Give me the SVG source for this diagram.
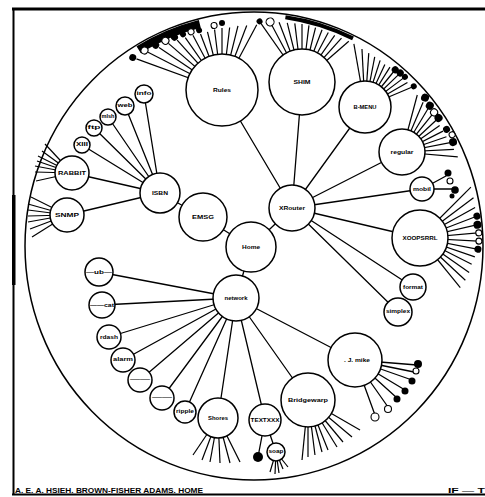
<svg xmlns="http://www.w3.org/2000/svg" width="485" height="497" viewBox="0 0 485 497">
<style>
.e{stroke:#000;stroke-width:1.3;fill:none;stroke-linecap:round}
.f line{stroke:#000;stroke-width:1.2}
.n{fill:#fff;stroke:#000;stroke-width:1.5}
.k{fill:#000}
.w{fill:#fff;stroke:#000;stroke-width:1.1}
.t{font-family:"Liberation Sans",Arial,sans-serif;font-weight:bold;font-size:6px;text-anchor:middle;fill:#000}
.s{font-family:"Liberation Sans",Arial,sans-serif;font-weight:bold;font-size:5px;text-anchor:middle;fill:#000}
.b{font-family:"Liberation Sans",Arial,sans-serif;font-weight:bold;font-size:8px;fill:#000}
</style>
<rect width="485" height="497" fill="#fff"/>
<g id="frame">
<line x1="12" y1="9" x2="485" y2="9" stroke="#000" stroke-width="3"/>
<line x1="13.5" y1="8" x2="13.5" y2="495" stroke="#000" stroke-width="2"/>
<rect x="12" y="195" width="3.5" height="90" fill="#000"/>
<line x1="12" y1="494.5" x2="485" y2="494.5" stroke="#000" stroke-width="2"/>
<text class="b" x="15" y="493" textLength="188" lengthAdjust="spacingAndGlyphs">A. E. A. HSIEH. BROWN-FISHER ADAMS. HOME</text>
<text class="b" x="448" y="493" textLength="37" lengthAdjust="spacingAndGlyphs">IF — T</text>
</g>
<ellipse id="rim" cx="254" cy="246" rx="229" ry="234" fill="none" stroke="#000" stroke-width="1.5"/>
<g id="connectors">
<g class="e">
<line x1="251" y1="247" x2="292" y2="208"/>
<line x1="251" y1="247" x2="203" y2="217"/>
<line x1="251" y1="247" x2="236" y2="298"/>
<line x1="203" y1="217" x2="160" y2="193"/>
<line x1="160" y1="193" x2="67" y2="215"/>
<line x1="160" y1="193" x2="72" y2="173"/>
<line x1="160" y1="193" x2="82" y2="145"/>
<line x1="160" y1="193" x2="94" y2="128"/>
<line x1="160" y1="193" x2="108" y2="117"/>
<line x1="160" y1="193" x2="125" y2="106"/>
<line x1="160" y1="193" x2="144" y2="94"/>
<line x1="292" y1="208" x2="222" y2="90"/>
<line x1="292" y1="208" x2="302" y2="82"/>
<line x1="292" y1="208" x2="365" y2="107"/>
<line x1="292" y1="208" x2="402" y2="152"/>
<line x1="292" y1="208" x2="422" y2="189"/>
<line x1="292" y1="208" x2="420" y2="238"/>
<line x1="292" y1="208" x2="413" y2="287"/>
<line x1="292" y1="208" x2="398" y2="312"/>
<line x1="236" y1="298" x2="99" y2="272"/>
<line x1="236" y1="298" x2="102" y2="305"/>
<line x1="236" y1="298" x2="109" y2="337"/>
<line x1="236" y1="298" x2="123" y2="360"/>
<line x1="236" y1="298" x2="140" y2="380"/>
<line x1="236" y1="298" x2="162" y2="398"/>
<line x1="236" y1="298" x2="185" y2="412"/>
<line x1="236" y1="298" x2="218" y2="418"/>
<line x1="236" y1="298" x2="265" y2="420"/>
<line x1="236" y1="298" x2="308" y2="400"/>
<line x1="236" y1="298" x2="355" y2="360"/>
<line x1="265" y1="420" x2="258" y2="457"/>
<line x1="265" y1="420" x2="276" y2="452"/>
<line x1="422" y1="189" x2="446" y2="176"/>
<line x1="422" y1="189" x2="452" y2="189"/>
</g>
<path d="M138.6,49.7 A224,229 0 0,1 199.8,23.9" fill="none" stroke="#000" stroke-width="8"/>
<path d="M285.4,17.2 A226,231 0 0,1 353,38.4" fill="none" stroke="#000" stroke-width="4"/>
<g class="f" transform="translate(222,90)">
<line x2="91" transform="rotate(-160)"/><line x2="83" transform="rotate(-153)"/><line x2="76" transform="rotate(-146)"/><line x2="71" transform="rotate(-139)"/><line x2="67" transform="rotate(-132)"/><line x2="64" transform="rotate(-125)"/><line x2="62" transform="rotate(-118)"/><line x2="60" transform="rotate(-111)"/><line x2="60" transform="rotate(-104)"/><line x2="61" transform="rotate(-97)"/><line x2="62" transform="rotate(-90)"/><line x2="63" transform="rotate(-83)"/><line x2="66" transform="rotate(-76)"/><line x2="69" transform="rotate(-69)"/><line x2="74" transform="rotate(-62)"/>
<circle class="k" cx="95" r="3.5" transform="rotate(-160)"/><circle class="w" cx="87" r="3.5" transform="rotate(-153)"/><circle class="k" cx="80" r="3.5" transform="rotate(-146)"/><circle class="w" cx="75" r="3.5" transform="rotate(-139)"/><circle class="k" cx="71" r="3.5" transform="rotate(-132)"/><circle class="k" cx="68" r="3" transform="rotate(-125)"/><circle class="w" cx="66" r="3" transform="rotate(-118)"/><circle class="k" cx="64" r="3" transform="rotate(-111)"/><circle class="w" cx="65" r="3" transform="rotate(-97)"/><circle class="k" cx="67" r="3" transform="rotate(-90)"/>
</g>
<g class="f" transform="translate(302,82)">
<line x2="75" transform="rotate(-125)"/><line x2="69" transform="rotate(-118)"/><line x2="64" transform="rotate(-111)"/><line x2="61" transform="rotate(-104)"/><line x2="59" transform="rotate(-97)"/><line x2="58" transform="rotate(-90)"/><line x2="57" transform="rotate(-83)"/><line x2="56" transform="rotate(-76)"/><line x2="56" transform="rotate(-69)"/><line x2="56" transform="rotate(-62)"/><line x2="57" transform="rotate(-55)"/><line x2="59" transform="rotate(-48)"/><line x2="62" transform="rotate(-41)"/>
<circle class="w" cx="68" r="4" transform="rotate(-118)"/><circle class="k" cx="74" r="3" transform="rotate(-125)"/>
</g>
<g class="f" transform="translate(365,107)">
<line x2="64" transform="rotate(-100)"/><line x2="58" transform="rotate(-93)"/><line x2="54" transform="rotate(-86)"/><line x2="51" transform="rotate(-79)"/><line x2="49" transform="rotate(-72)"/><line x2="47" transform="rotate(-65)"/><line x2="47" transform="rotate(-58)"/><line x2="46" transform="rotate(-51)"/><line x2="47" transform="rotate(-44)"/><line x2="48" transform="rotate(-37)"/><line x2="49" transform="rotate(-30)"/><line x2="52" transform="rotate(-23)"/>
<circle class="k" cx="48" r="3.5" transform="rotate(-51)"/><circle class="k" cx="49" r="3.5" transform="rotate(-44)"/><circle class="k" cx="50" r="3" transform="rotate(-37)"/><circle class="k" cx="53" r="3" transform="rotate(-23)"/>
</g>
<g class="f" transform="translate(402,152)">
<line x2="59" transform="rotate(-75)"/><line x2="54" transform="rotate(-67)"/><line x2="51" transform="rotate(-59)"/><line x2="48" transform="rotate(-51)"/><line x2="47" transform="rotate(-43)"/><line x2="46" transform="rotate(-35)"/><line x2="46" transform="rotate(-27)"/><line x2="47" transform="rotate(-19)"/><line x2="49" transform="rotate(-11)"/><line x2="52" transform="rotate(-3)"/><line x2="56" transform="rotate(5)"/>
<circle class="k" cx="59" r="4" transform="rotate(-67)"/><circle class="k" cx="54" r="4" transform="rotate(-59)"/><circle class="w" cx="51" r="3.5" transform="rotate(-51)"/><circle class="k" cx="50" r="4" transform="rotate(-43)"/><circle class="k" cx="50" r="3.5" transform="rotate(-27)"/><circle class="k" cx="52" r="4" transform="rotate(-11)"/><circle class="w" cx="53" r="3" transform="rotate(-19)"/>
</g>
<circle class="k" cx="448" cy="173" r="3.5"/><circle class="w" cx="450" cy="181" r="3"/><circle class="k" cx="455" cy="190" r="3.8"/><circle class="k" cx="452" cy="196" r="2.5"/>
<g class="f" transform="translate(420,238)">
<line x2="72" transform="rotate(-45)"/><line x2="67" transform="rotate(-37)"/><line x2="63" transform="rotate(-29)"/><line x2="60" transform="rotate(-21)"/><line x2="58" transform="rotate(-13)"/><line x2="58" transform="rotate(-5)"/><line x2="58" transform="rotate(3)"/><line x2="58" transform="rotate(11)"/><line x2="58" transform="rotate(19)"/><line x2="58" transform="rotate(27)"/><line x2="60" transform="rotate(35)"/><line x2="62" transform="rotate(43)"/><line x2="64" transform="rotate(51)"/>
<circle class="k" cx="61" r="3.5" transform="rotate(-21)"/><circle class="k" cx="59" r="4" transform="rotate(-13)"/><circle class="w" cx="59" r="3" transform="rotate(-5)"/><circle class="k" cx="59" r="3.5" transform="rotate(11)"/><circle class="w" cx="59" r="3" transform="rotate(3)"/>
</g>
<g class="e">
<line x1="355" y1="360" x2="417" y2="365"/><line x1="355" y1="360" x2="414" y2="372"/><line x1="355" y1="360" x2="412" y2="380"/><line x1="355" y1="360" x2="405" y2="390"/><line x1="355" y1="360" x2="397" y2="398"/><line x1="355" y1="360" x2="388" y2="407"/><line x1="355" y1="360" x2="375" y2="415"/>
</g>
<circle class="k" cx="418" cy="364" r="4"/><circle class="w" cx="416" cy="371" r="3"/><circle class="k" cx="412" cy="381" r="3.5"/><circle class="k" cx="405" cy="391" r="3.5"/><circle class="k" cx="397" cy="399" r="3.5"/><circle class="w" cx="388" cy="409" r="3.5"/><circle class="w" cx="375" cy="417" r="4"/>
<g class="f" transform="translate(308,400)">
<line x2="-6" y2="60"/><line y2="57"/><line x2="7" y2="55"/><line x2="14" y2="52"/><line x2="20" y2="50"/><line x2="29" y2="47"/><line x2="35" y2="42"/><line x2="44" y2="37"/><line x2="52" y2="30"/>
</g>
<g class="f" transform="translate(218,418)">
<line x2="-25" y2="37"/><line x2="-16" y2="42"/><line x2="-8" y2="44"/><line x2="2" y2="45"/><line x2="12" y2="45"/><line x2="22" y2="44"/>
</g>
<g class="f" transform="translate(276,452)">
<line x2="-6" y2="20"/><line x2="-1" y2="22"/><line x2="3" y2="21"/><line x2="7" y2="17"/><line x2="12" y2="15"/>
</g>
<g class="f" transform="translate(72,173)">
<line x2="-27" y2="-29"/><line x2="-30" y2="-22"/><line x2="-34" y2="-17"/><line x2="-35" y2="-12"/><line x2="-37" y2="-7"/><line x2="-37" y2="-1"/><line x2="-36" y2="8"/>
</g>
<g class="f" transform="translate(67,215)">
<line x2="-36" y2="-18"/><line x2="-39" y2="-11"/><line x2="-39" y2="-5"/><line x2="-39" y2="1"/><line x2="-39" y2="7"/><line x2="-37" y2="14"/><line x2="-35" y2="22"/>
</g>
</g>
<g id="n-root"><circle class="n" cx="251" cy="247" r="25"/><text class="t" x="251" y="249" textLength="18" lengthAdjust="spacingAndGlyphs">Home</text></g>
<g id="n-x"><circle class="n" cx="292" cy="208" r="23"/><text class="t" x="292" y="210" textLength="26" lengthAdjust="spacingAndGlyphs">XRouter</text></g>
<g id="n-s"><circle class="n" cx="203" cy="217" r="24"/><text class="t" x="203" y="219" textLength="22" lengthAdjust="spacingAndGlyphs">EMSG</text></g>
<g id="n-l1"><circle class="n" cx="160" cy="193" r="20"/><text class="t" x="160" y="195" textLength="16" lengthAdjust="spacingAndGlyphs">ISBN</text></g>
<g id="n-a"><circle class="n" cx="222" cy="90" r="36"/><text class="t" x="222" y="92" textLength="18" lengthAdjust="spacingAndGlyphs">Rules</text></g>
<g id="n-b"><circle class="n" cx="302" cy="82" r="33"/><text class="t" x="302" y="84" textLength="17" lengthAdjust="spacingAndGlyphs">SHIM</text></g>
<g id="n-c"><circle class="n" cx="365" cy="107" r="26"/><text class="t" x="365" y="109" textLength="23" lengthAdjust="spacingAndGlyphs">B-MENU</text></g>
<g id="n-d"><circle class="n" cx="402" cy="152" r="23"/><text class="t" x="402" y="154" textLength="23" lengthAdjust="spacingAndGlyphs">regular</text></g>
<g id="n-e"><circle class="n" cx="422" cy="189" r="12"/><text class="s" x="422" y="191" textLength="18" lengthAdjust="spacingAndGlyphs">mobil</text></g>
<g id="n-f"><circle class="n" cx="420" cy="238" r="28"/><text class="t" x="420" y="240" textLength="35" lengthAdjust="spacingAndGlyphs">XOOPSRRL</text></g>
<g id="n-g"><circle class="n" cx="413" cy="287" r="13"/><text class="s" x="413" y="289" textLength="20" lengthAdjust="spacingAndGlyphs">format</text></g>
<g id="n-h"><circle class="n" cx="398" cy="312" r="14"/><text class="s" x="398" y="313" textLength="24" lengthAdjust="spacingAndGlyphs">simplex</text></g>
<g id="n-w"><circle class="n" cx="236" cy="298" r="23"/><text class="t" x="236" y="300" textLength="23" lengthAdjust="spacingAndGlyphs">network</text></g>
<g id="n-k"><circle class="n" cx="355" cy="360" r="27"/><text class="t" x="357" y="362" textLength="26" lengthAdjust="spacingAndGlyphs">. J. mike</text></g>
<g id="n-l"><circle class="n" cx="308" cy="400" r="27"/><text class="t" x="308" y="402" textLength="40" lengthAdjust="spacingAndGlyphs">Bridgewarp</text></g>
<g id="n-m"><circle class="n" cx="265" cy="420" r="16"/><text class="s" x="265" y="422" textLength="29" lengthAdjust="spacingAndGlyphs">TEXTXXX</text></g>
<g id="n-m1"><circle class="k" cx="258" cy="457" r="5"/></g>
<g id="n-m2"><circle class="n" cx="276" cy="452" r="9"/><text class="s" x="276" y="453" textLength="15" lengthAdjust="spacingAndGlyphs">soap</text></g>
<g id="n-n"><circle class="n" cx="218" cy="418" r="20"/><text class="t" x="218" y="420" textLength="20" lengthAdjust="spacingAndGlyphs">Shores</text></g>
<g id="n-w1"><circle class="n" cx="99" cy="272" r="14"/><text class="s" x="99" y="274" textLength="26" lengthAdjust="spacingAndGlyphs">—ub—</text></g>
<g id="n-w2"><circle class="n" cx="102" cy="305" r="13"/><text class="s" x="102" y="307" textLength="24" lengthAdjust="spacingAndGlyphs">——cat</text></g>
<g id="n-w3"><circle class="n" cx="109" cy="337" r="12"/><text class="s" x="109" y="339" textLength="18" lengthAdjust="spacingAndGlyphs">rdash</text></g>
<g id="n-w4"><circle class="n" cx="123" cy="360" r="12"/><text class="s" x="123" y="361" textLength="20" lengthAdjust="spacingAndGlyphs">alarm</text></g>
<g id="n-w5"><circle class="n" cx="140" cy="380" r="12"/><text class="s" x="140" y="381" textLength="20" lengthAdjust="spacingAndGlyphs">——</text></g>
<g id="n-w6"><circle class="n" cx="162" cy="398" r="12"/><text class="s" x="162" y="399" textLength="20" lengthAdjust="spacingAndGlyphs">——</text></g>
<g id="n-w7"><circle class="n" cx="185" cy="412" r="11"/><text class="s" x="185" y="413" textLength="18" lengthAdjust="spacingAndGlyphs">ripple</text></g>
<g id="n-q"><circle class="n" cx="72" cy="173" r="17"/><text class="t" x="72" y="175" textLength="28" lengthAdjust="spacingAndGlyphs">RABBIT</text></g>
<g id="n-p"><circle class="n" cx="67" cy="215" r="17"/><text class="t" x="67" y="217" textLength="24" lengthAdjust="spacingAndGlyphs">SNMP</text></g>
<g id="n-s1"><circle class="n" cx="82" cy="145" r="8"/><text class="s" x="82" y="146" textLength="12" lengthAdjust="spacingAndGlyphs">XIII</text></g>
<g id="n-s2"><circle class="n" cx="94" cy="128" r="8"/><text class="s" x="94" y="129" textLength="13" lengthAdjust="spacingAndGlyphs">ftp</text></g>
<g id="n-s3"><circle class="n" cx="108" cy="117" r="8"/><text class="s" x="108" y="118" textLength="13" lengthAdjust="spacingAndGlyphs">mlsh</text></g>
<g id="n-s4"><circle class="n" cx="125" cy="106" r="9"/><text class="s" x="125" y="107" textLength="15" lengthAdjust="spacingAndGlyphs">web</text></g>
<g id="n-s5"><circle class="n" cx="144" cy="94" r="9"/><text class="s" x="144" y="95" textLength="15" lengthAdjust="spacingAndGlyphs">info</text></g>
</svg>
